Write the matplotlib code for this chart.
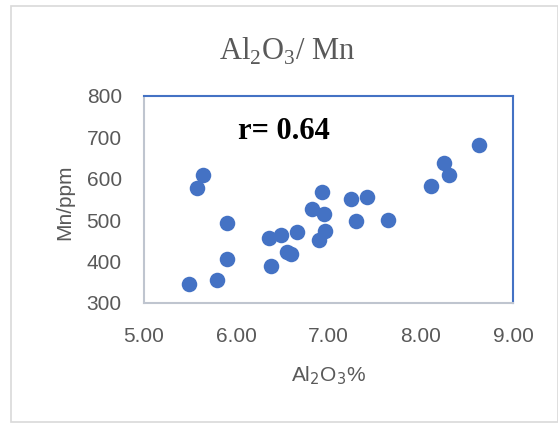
import matplotlib.pyplot as plt
from matplotlib.patches import Rectangle

# Al2O3 (%) vs Mn (ppm)
al2o3 = [8.63, 8.25, 8.31, 8.11, 5.64, 5.57, 5.90, 5.90, 5.49, 5.79,
         6.38, 6.36, 6.49, 6.66, 6.55, 6.59, 6.93, 6.82, 6.95, 6.96,
         6.90, 7.24, 7.42, 7.30, 7.64]
mn = [682, 638, 610, 583, 608, 577, 493, 406, 346, 356,
      389, 457, 465, 472, 424, 418, 568, 526, 516, 474,
      452, 551, 557, 497, 501]
x_ticks = [5.0, 6.0, 7.0, 8.0, 9.0]
y_ticks = [300, 400, 500, 600, 700, 800]

plt.rcParams['mathtext.fontset'] = 'custom'
plt.rcParams['mathtext.rm'] = 'Liberation Serif'

W, H = 558, 425
fig = plt.figure(figsize=(W / 100, H / 100), dpi=100)
fig.patches.append(Rectangle((11 / W, 1 - 422 / H), (W - 11) / W, (422 - 6) / H,
                             transform=fig.transFigure, fill=False,
                             edgecolor='#d9d9d9', linewidth=1.2))

ax = fig.add_axes([144 / W, 1 - 303 / H, (513 - 144) / W, (303 - 96) / H])
ax.scatter(al2o3, mn, s=125, color='#4472c4', zorder=3, linewidths=0)
ax.set_xlim(5, 9)
ax.set_ylim(300, 800)
ax.set_xticks(x_ticks)
ax.set_xticklabels(['%.2f' % v for v in x_ticks])
ax.set_yticks(y_ticks)
ax.tick_params(length=0, labelsize=15, labelcolor='#595959')
ax.tick_params(axis='x', pad=17)
ax.tick_params(axis='y', pad=16)
for lab in ax.get_xticklabels() + ax.get_yticklabels():
    lab.set_fontfamily('Liberation Sans')
ax.spines['top'].set_color('#4472c4')
ax.spines['right'].set_color('#4472c4')
ax.spines['left'].set_color('#bfc5cf')
ax.spines['bottom'].set_color('#bfc5cf')
for s in ax.spines.values():
    s.set_linewidth(1.5)

ax.text(0.255, 0.83, 'r= 0.64', transform=ax.transAxes, fontsize=22,
        fontweight='bold', family='Liberation Serif', ha='left', va='center')

fig.text(287 / W, 1 - 51 / H, r'Al$_2$O$_3$/ Mn', fontsize=22, color='#595959',
         family='Liberation Serif', ha='center', va='center')
fig.text(328 / W, 1 - 376 / H, 'Al$_2$O$_3$%', fontsize=15, color='#595959',
         family='Liberation Sans', ha='center', va='center',
         math_fontfamily='dejavusans')
fig.text(65 / W, 1 - 202 / H, 'Mn/ppm', fontsize=15, color='#595959',
         family='Liberation Sans', ha='center', va='center', rotation=90)

fig.savefig('out.png', dpi=100)
